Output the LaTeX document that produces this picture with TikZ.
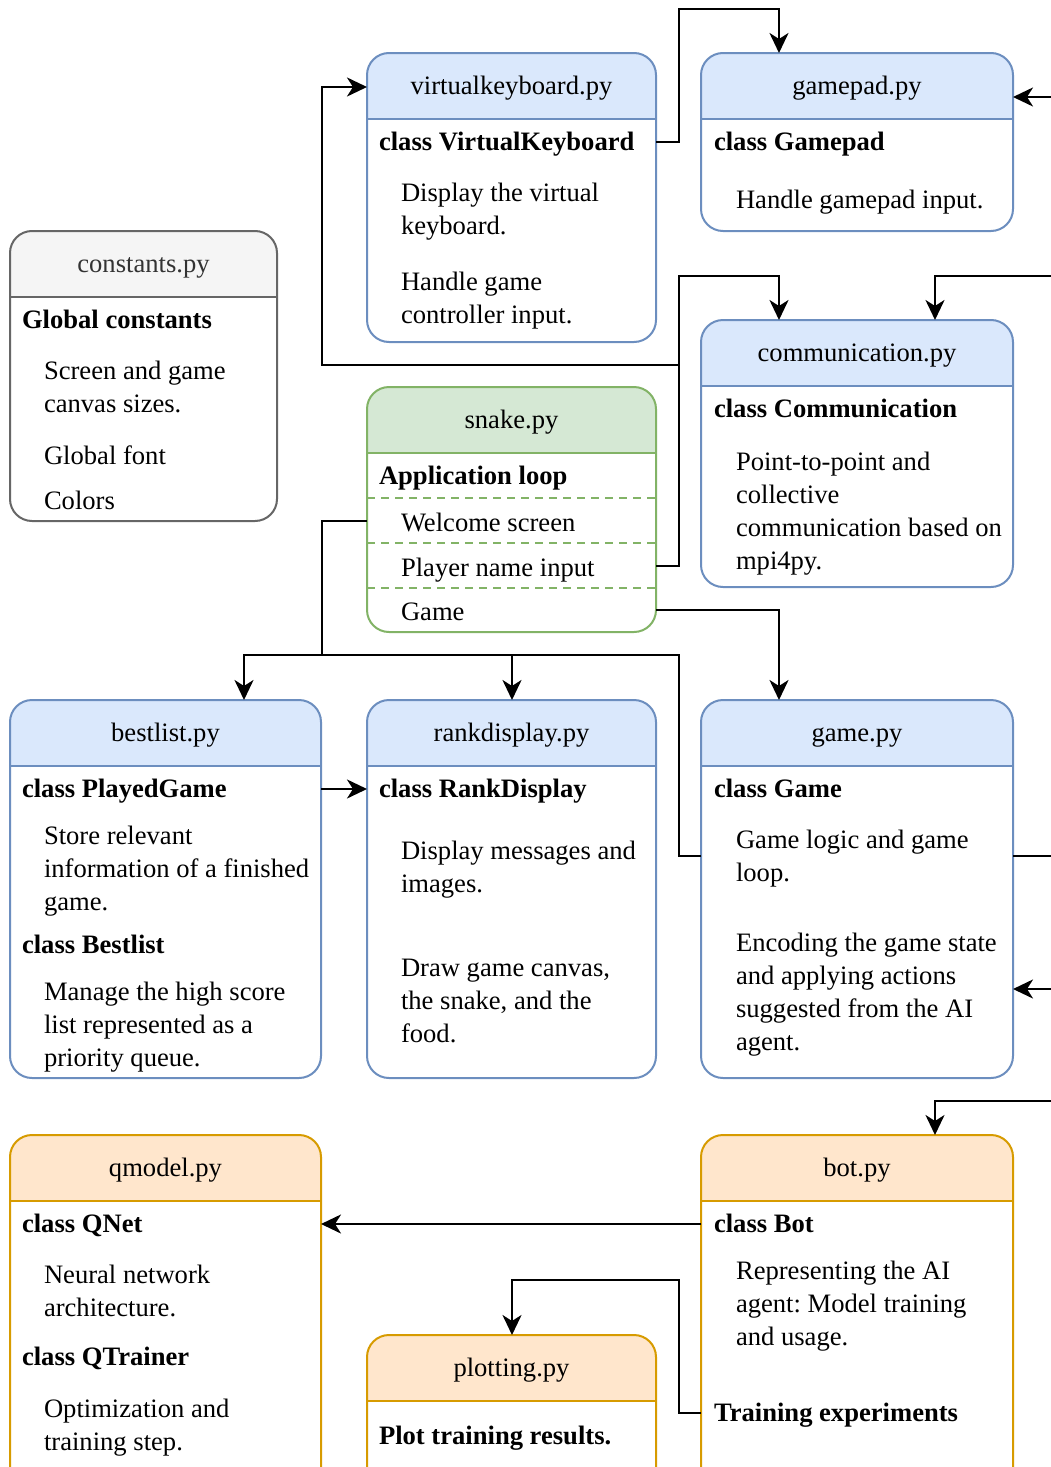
\documentclass[tikz,border=0pt]{standalone}
\usepackage{fontspec}
\setmainfont{Liberation Serif}
\usetikzlibrary{arrows.meta,fit}
\frenchspacing

\definecolor{blueline}{HTML}{6C8EBF}
\definecolor{bluefill}{HTML}{DAE8FC}
\definecolor{greenline}{HTML}{82B366}
\definecolor{greenfill}{HTML}{D5E8D4}
\definecolor{orangeline}{HTML}{D79B00}
\definecolor{orangefill}{HTML}{FFE6CC}
\definecolor{grayline}{HTML}{666666}
\definecolor{grayfill}{HTML}{F5F5F5}
\definecolor{graytext}{HTML}{333333}

\newcommand{\bodyfont}{\fontsize{13.3}{16.5}\selectfont}

% module box: name, x1, y1, x2, y2, colour family, title
\newcommand{\pybox}[7]{%
  \node[fit={(#2,#3) (#4,#5)}, inner sep=0pt, outer sep=0pt, fill=white] (#1) {};
  \begin{scope}
    \clip ({#2},{#3}) rectangle ({#4},{#3+66});
    \fill[#6fill, rounded corners=11pt] (#1.north west) rectangle (#1.south east);
  \end{scope}
  \draw[#6line, line width=1pt] ({#2},{#3+66}) -- ({#4},{#3+66});
  \draw[#6line, line width=1pt, rounded corners=11pt] (#1.north west) rectangle (#1.south east);
  \node[title] (#1-title) at ({(#2+#4)/2},{#3+41}) {#7};
}

\tikzset{
  title/.style={anchor=base, inner sep=0pt, font=\bodyfont},
  body/.style={anchor=north west, inner sep=0pt, outer sep=0pt, align=left,
    font=\bodyfont, yshift=8.5pt, execute at begin node={\rule{0pt}{10pt}}},
  cls/.style={body, font=\bodyfont\bfseries, yshift=1pt},
  conn/.style={line width=1.25pt, draw=black},
  arr/.style={conn, -{Stealth[length=10pt, width=9.5pt, inset=3pt]}},
  sep/.style={greenline, line width=1pt, dash pattern=on 4pt off 3pt}
}

\begin{document}
\begin{tikzpicture}[x=0.5pt, y=-0.5pt]
\useasboundingbox (0,0) rectangle (1050,1467);

% ---- top row ----
\pybox{vk}{367}{53}{656}{342}{blue}{virtualkeyboard.py}
\node[cls]  (vk-a) at (379,149) {class VirtualKeyboard};
\node[body] (vk-b) at (401,200) {Display the virtual\\keyboard.};
\node[body] (vk-c) at (401,289) {Handle game\\controller input.};

\pybox{gp}{701}{53}{1013}{231}{blue}{gamepad.py}
\node[cls]  (gp-a) at (714,149) {class Gamepad};
\node[body] (gp-b) at (736,205) {Handle gamepad input.};

\pybox{ct}{10}{231}{277}{521}{gray}{\textcolor{graytext}{constants.py}}
\node[cls]  (ct-a) at (22,327) {Global constants};
\node[body] (ct-b) at (44,378) {Screen and game\\canvas sizes.};
\node[body] (ct-c) at (44,461) {Global font};
\node[body] (ct-d) at (44,506) {Colors};

\pybox{cm}{701}{320}{1013}{587}{blue}{communication.py}
\node[cls]  (cm-a) at (714,416) {class Communication};
\node[body] (cm-b) at (736,469) {Point-to-point and\\collective\\communication based on\\mpi4py.};

\pybox{sn}{367}{387}{656}{632}{green}{snake.py}
\node[cls]  (sn-a) at (379,483) {Application loop};
\draw[sep] (sn.west |- 0,498) -- (sn.east |- 0,498);
\node[body] (sn-b) at (401,528) {Welcome screen};
\draw[sep] (sn.west |- 0,543) -- (sn.east |- 0,543);
\node[body] (sn-c) at (401,573) {Player name input};
\draw[sep] (sn.west |- 0,588) -- (sn.east |- 0,588);
\node[body] (sn-d) at (401,617) {Game};

% ---- middle row ----
\pybox{bl}{10}{700}{321}{1078}{blue}{bestlist.py}
\node[cls]  (bl-a) at (22,796) {class PlayedGame};
\node[body] (bl-b) at (44,843) {Store relevant\\information of a finished\\game.};
\node[cls]  (bl-c) at (22,952) {class Bestlist};
\node[body] (bl-d) at (44,999) {Manage the high score\\list represented as a\\priority queue.};

\pybox{rd}{367}{700}{656}{1078}{blue}{rankdisplay.py}
\node[cls]  (rd-a) at (379,796) {class RankDisplay};
\node[body] (rd-b) at (401,858) {Display messages and\\images.};
\node[body] (rd-c) at (401,976) {Draw game canvas,\\the snake, and the\\food.};

\pybox{gm}{701}{700}{1013}{1078}{blue}{game.py}
\node[cls]  (gm-a) at (714,796) {class Game};
\node[body] (gm-b) at (736,847) {Game logic and game\\loop.};
\node[body] (gm-c) at (736,950) {Encoding the game state\\and applying actions\\suggested from the AI\\agent.};

% ---- bottom row ----
\pybox{qm}{10}{1135}{321}{1500}{orange}{qmodel.py}
\node[cls]  (qm-a) at (22,1231) {class QNet};
\node[body] (qm-b) at (44,1282) {Neural network\\architecture.};
\node[cls]  (qm-c) at (22,1364) {class QTrainer};
\node[body] (qm-d) at (44,1416) {Optimization and\\training step.};

\pybox{pl}{367}{1335}{656}{1500}{orange}{plotting.py}
\node[cls]  (pl-a) at (379,1443) {Plot training results.};

\pybox{bt}{701}{1135}{1013}{1500}{orange}{bot.py}
\node[cls]  (bt-a) at (714,1231) {class Bot};
\node[body] (bt-b) at (736,1278) {Representing the AI\\agent: Model training\\and usage.};
\node[cls]  (bt-c) at (714,1420) {Training experiments};

% ---- loose ends leaving the sheet on the right ----
\coordinate (in-gp)  at (1060,97);
\coordinate (in-cm)  at (1060,276);
\coordinate (out-gm) at (1060,856);
\coordinate (in-gm)  at (1060,989);
\coordinate (in-bt)  at (1060,1101);

% ---- connectors ----
\draw[arr] (vk.east |- 0,142) -- (679,142) -- (679,9) -- (779,9) -- (779,0 |- gp.north);
\draw[arr] (in-gp) -- (gp.east |- in-gp);
\draw[arr] (sn.east |- 0,566) -- (679,566) -- (679,276) -- (779,276) -- (779,0 |- cm.north);
\draw[arr] (sn.east |- 0,566) -- (679,566) -- (679,365) -- (322,365) -- (322,87) -- (vk.west |- 0,87);
\draw[arr] (in-cm) -- (935,276) -- (935,0 |- cm.north);
\draw[arr] (sn.west |- 0,521) -- (322,521) -- (322,655) -- (512,655) -- (512,0 |- rd.north);
\draw[arr] (gm.west |- 0,856) -- (679,856) -- (679,655) -- (244,655) -- (244,0 |- bl.north);
\draw[arr] (sn.east |- 0,610) -- (779,610) -- (779,0 |- gm.north);
\draw[arr] (bl.east |- 0,789) -- (rd.west |- 0,789);
\draw[conn] (gm.east |- out-gm) -- (out-gm);
\draw[arr] (in-gm) -- (gm.east |- in-gm);
\draw[arr] (in-bt) -- (935,1101) -- (935,0 |- bt.north);
\draw[arr] (bt.west |- 0,1224) -- (qm.east |- 0,1224);
\draw[arr] (bt.west |- 0,1413) -- (679,1413) -- (679,1280) -- (512,1280) -- (512,0 |- pl.north);
\end{tikzpicture}
\end{document}
